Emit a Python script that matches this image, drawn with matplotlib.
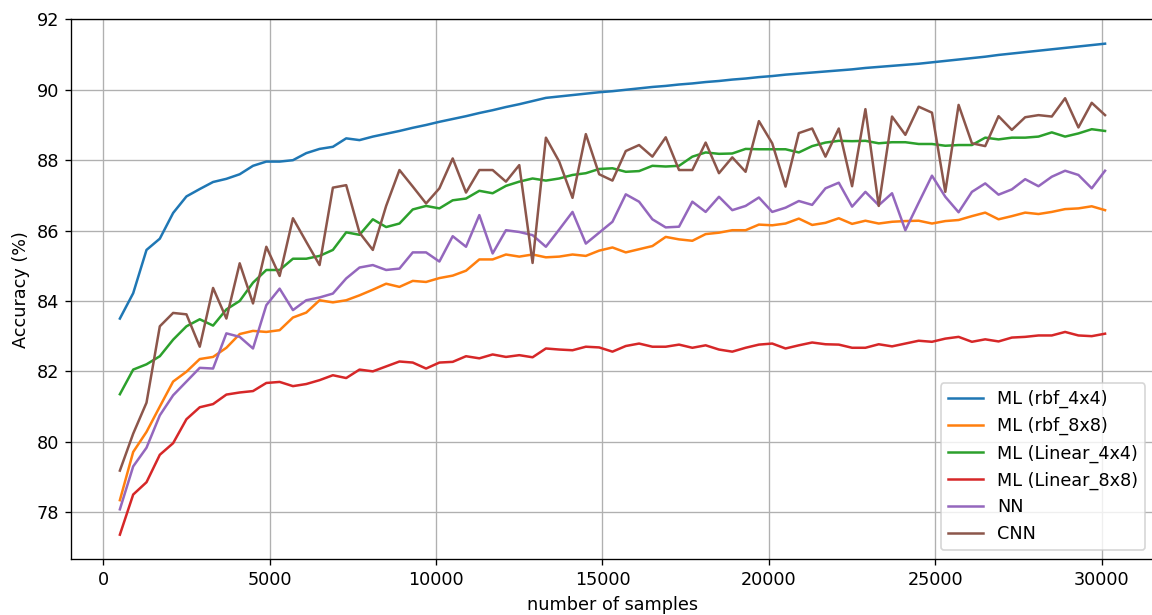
import matplotlib
matplotlib.use('Agg')
import matplotlib.pyplot as plt

plt.rcParams['font.size'] = 10.6

#-----training set sizes (500 to 30100, every 400 samples)-----
samples = list(range(500, 30101, 400))

#-----accuracy per model (%)-----
rbf_4x4 = [83.50, 84.22, 85.45, 85.77, 86.50, 86.97, 87.18, 87.38, 87.47, 87.60,
           87.84, 87.96, 87.96, 88.00, 88.20, 88.32, 88.38, 88.62, 88.57, 88.67,
           88.75, 88.83, 88.92, 89.00, 89.09, 89.17, 89.25, 89.34, 89.42, 89.51,
           89.59, 89.68, 89.77, 89.81, 89.85, 89.89, 89.93, 89.96, 90.00, 90.04,
           90.08, 90.11, 90.15, 90.18, 90.22, 90.25, 90.29, 90.32, 90.36, 90.39,
           90.43, 90.46, 90.49, 90.52, 90.55, 90.58, 90.62, 90.65, 90.68, 90.71,
           90.74, 90.78, 90.82, 90.86, 90.90, 90.94, 90.99, 91.03, 91.07, 91.11,
           91.15, 91.19, 91.23, 91.27, 91.31]

rbf_8x8 = [78.34, 79.71, 80.28, 81.00, 81.71, 81.99, 82.35, 82.41, 82.67, 83.06,
           83.15, 83.12, 83.17, 83.53, 83.67, 84.02, 83.96, 84.02, 84.16, 84.32,
           84.49, 84.40, 84.57, 84.54, 84.65, 84.72, 84.86, 85.18, 85.18, 85.32,
           85.26, 85.32, 85.24, 85.26, 85.32, 85.28, 85.43, 85.52, 85.38, 85.47,
           85.56, 85.82, 85.75, 85.71, 85.90, 85.94, 86.01, 86.01, 86.17, 86.15,
           86.20, 86.34, 86.16, 86.22, 86.35, 86.19, 86.28, 86.20, 86.25, 86.27,
           86.28, 86.20, 86.27, 86.30, 86.41, 86.51, 86.32, 86.41, 86.51, 86.47,
           86.53, 86.61, 86.63, 86.69, 86.58]

linear_4x4 = [81.35, 82.05, 82.20, 82.43, 82.90, 83.28, 83.48, 83.30, 83.76, 84.00,
              84.52, 84.88, 84.88, 85.20, 85.20, 85.28, 85.45, 85.95, 85.88, 86.32,
              86.10, 86.20, 86.60, 86.70, 86.63, 86.86, 86.91, 87.13, 87.06, 87.27,
              87.39, 87.48, 87.42, 87.48, 87.58, 87.63, 87.75, 87.77, 87.67, 87.69,
              87.84, 87.82, 87.84, 88.10, 88.22, 88.18, 88.19, 88.32, 88.31, 88.31,
              88.31, 88.22, 88.40, 88.50, 88.55, 88.54, 88.55, 88.48, 88.51, 88.51,
              88.46, 88.46, 88.41, 88.43, 88.43, 88.64, 88.59, 88.64, 88.64, 88.67,
              88.79, 88.67, 88.76, 88.88, 88.83]

linear_8x8 = [77.36, 78.50, 78.85, 79.63, 79.96, 80.64, 80.98, 81.07, 81.34, 81.40,
              81.44, 81.67, 81.70, 81.58, 81.64, 81.75, 81.89, 81.81, 82.05, 82.00,
              82.14, 82.28, 82.25, 82.08, 82.25, 82.27, 82.43, 82.37, 82.48, 82.41,
              82.46, 82.40, 82.65, 82.62, 82.60, 82.70, 82.68, 82.56, 82.72, 82.79,
              82.70, 82.70, 82.76, 82.67, 82.74, 82.62, 82.56, 82.67, 82.76, 82.79,
              82.65, 82.74, 82.82, 82.77, 82.76, 82.67, 82.67, 82.77, 82.71, 82.79,
              82.87, 82.84, 82.93, 82.98, 82.84, 82.91, 82.85, 82.96, 82.98, 83.02,
              83.02, 83.12, 83.02, 83.00, 83.07]

nn = [78.08, 79.30, 79.83, 80.75, 81.32, 81.71, 82.10, 82.08, 83.08, 82.98,
      82.65, 83.88, 84.35, 83.74, 84.02, 84.10, 84.21, 84.64, 84.95, 85.02,
      84.88, 84.92, 85.38, 85.38, 85.12, 85.84, 85.54, 86.44, 85.35, 86.01,
      85.96, 85.87, 85.54, 86.03, 86.53, 85.63, 85.94, 86.25, 87.03, 86.82,
      86.32, 86.09, 86.11, 86.82, 86.53, 86.96, 86.58, 86.70, 86.94, 86.53,
      86.65, 86.84, 86.73, 87.20, 87.36, 86.68, 87.10, 86.72, 87.06, 86.01,
      86.79, 87.56, 86.96, 86.52, 87.10, 87.34, 87.02, 87.17, 87.46, 87.26,
      87.53, 87.70, 87.58, 87.20, 87.70]

cnn = [79.18, 80.23, 81.11, 83.28, 83.66, 83.62, 82.70, 84.37, 83.50, 85.07,
       83.93, 85.54, 84.71, 86.35, 85.68, 85.02, 87.22, 87.29, 85.94, 85.45,
       86.70, 87.72, 87.25, 86.77, 87.20, 88.05, 87.08, 87.72, 87.72, 87.39,
       87.86, 85.08, 88.64, 87.96, 86.93, 88.74, 87.60, 87.42, 88.26, 88.43,
       88.10, 88.65, 87.72, 87.72, 88.50, 87.63, 88.08, 87.67, 89.11, 88.48,
       87.25, 88.77, 88.90, 88.10, 88.90, 87.26, 89.45, 86.70, 89.24, 88.72,
       89.52, 89.35, 87.10, 89.57, 88.48, 88.40, 89.25, 88.86, 89.22, 89.28,
       89.24, 89.76, 88.93, 89.63, 89.28]

labels = ['ML (rbf_4x4)', 'ML (rbf_8x8)', 'ML (Linear_4x4)',
          'ML (Linear_8x8)', 'NN', 'CNN']
series = [rbf_4x4, rbf_8x8, linear_4x4, linear_8x8, nn, cnn]

#-----plot-----
fig = plt.figure(figsize=(9.6, 5.125), dpi=120)
ax = fig.add_axes([0.0613, 0.0907, 0.9407, 0.8782])

for acc, name in zip(series, labels):
    ax.plot(samples, acc, label=name, linewidth=1.5)

ax.grid(True)
ax.set_xlabel('number of samples')
ax.set_ylabel('Accuracy (%)')
ax.legend(loc='lower right')

fig.savefig('out.png', dpi=120)
